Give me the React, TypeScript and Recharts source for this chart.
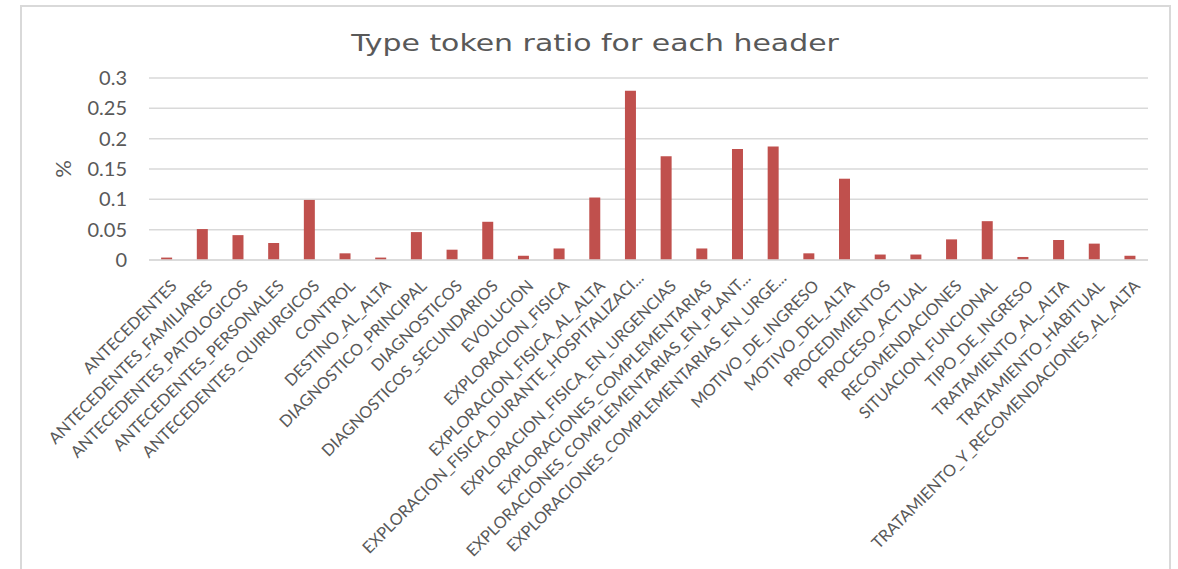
import { BarChart, Bar, XAxis, YAxis, CartesianGrid } from "recharts";

const headers = [
  "ANTECEDENTES",
  "ANTECEDENTES_FAMILIARES",
  "ANTECEDENTES_PATOLOGICOS",
  "ANTECEDENTES_PERSONALES",
  "ANTECEDENTES_QUIRURGICOS",
  "CONTROL",
  "DESTINO_AL_ALTA",
  "DIAGNOSTICO_PRINCIPAL",
  "DIAGNOSTICOS",
  "DIAGNOSTICOS_SECUNDARIOS",
  "EVOLUCION",
  "EXPLORACION_FISICA",
  "EXPLORACION_FISICA_AL_ALTA",
  "EXPLORACION_FISICA_DURANTE_HOSPITALIZACI...",
  "EXPLORACION_FISICA_EN_URGENCIAS",
  "EXPLORACIONES_COMPLEMENTARIAS",
  "EXPLORACIONES_COMPLEMENTARIAS_EN_PLANT...",
  "EXPLORACIONES_COMPLEMENTARIAS_EN_URGE...",
  "MOTIVO_DE_INGRESO",
  "MOTIVO_DEL_ALTA",
  "PROCEDIMIENTOS",
  "PROCESO_ACTUAL",
  "RECOMENDACIONES",
  "SITUACION_FUNCIONAL",
  "TIPO_DE_INGRESO",
  "TRATAMIENTO_AL_ALTA",
  "TRATAMIENTO_HABITUAL",
  "TRATAMIENTO_Y_RECOMENDACIONES_AL_ALTA",
];

const ttr = [
  0.004, 0.051, 0.041, 0.028, 0.099, 0.011, 0.004, 0.046, 0.017, 0.063,
  0.007, 0.019, 0.103, 0.279, 0.171, 0.019, 0.183, 0.187, 0.011, 0.134,
  0.009, 0.009, 0.034, 0.064, 0.005, 0.033, 0.027, 0.007,
];

const yTicks = [0, 0.05, 0.1, 0.15, 0.2, 0.25, 0.3];

const data = headers.map((h, i) => ({ header: h, ratio: ttr[i] }));

const textColor = "#595959";
const gridColor = "#d9d9d9";
const font = "Lato, 'Open Sans', sans-serif";

// truncated labels sit a little higher/further right, like in the original
const XTick = (props: any) => {
  const { x, y, payload } = props;
  const cut = String(payload.value).endsWith("...");
  const px = x + 11 + (cut ? 3 : 0);
  const py = y + 27 - (cut ? 8 : 0);
  return (
    <text
      x={px}
      y={py}
      transform={`rotate(-45 ${px} ${py})`}
      textAnchor="end"
      fill={textColor}
      fontSize={16.3}
      fontFamily={font}
    >
      {payload.value}
    </text>
  );
};

export default function App() {
  return (
    <div style={{ position: "absolute", left: 0, top: 0, width: 1178, height: 569, overflow: "hidden", background: "#fff" }}>
      <div
        style={{
          position: "absolute",
          left: 20,
          top: 5,
          width: 1151,
          height: 620,
          border: `2px solid ${gridColor}`,
          boxSizing: "border-box",
        }}
      />
      <div
        style={{
          position: "absolute",
          left: 6,
          top: 32,
          width: 1178,
          textAlign: "center",
          fontFamily: "'DejaVu Sans', sans-serif",
          fontSize: 22.5,
          lineHeight: "22.5px",
          color: textColor,
          whiteSpace: "nowrap",
          transform: "scaleX(1.33)",
          transformOrigin: "589px 50%",
        }}
      >
        Type token ratio for each header
      </div>
      <div style={{ position: "absolute", left: 0, top: 0 }}>
        <BarChart
          width={1178}
          height={569}
          data={data}
          margin={{ top: 78, right: 30, bottom: 9, left: 0 }}
          barCategoryGap="34%"
        >
          <CartesianGrid vertical={false} stroke={gridColor} strokeWidth={1.5} />
          <XAxis
            dataKey="header"
            interval={0}
            height={300}
            tickLine={false}
            tickSize={0}
            tickMargin={0}
            axisLine={{ stroke: gridColor, strokeWidth: 1.5 }}
            tick={<XTick />}
          />
          <YAxis
            width={149}
            domain={[0, 0.3]}
            ticks={yTicks}
            axisLine={false}
            tickLine={false}
            tickSize={0}
            tickMargin={22}
            tick={{ fill: textColor, fontSize: 20, fontFamily: font }}
            label={{
              content: () => (
                <text
                  x={62}
                  y={169}
                  transform="rotate(-90 62 169)"
                  textAnchor="middle"
                  dominantBaseline="central"
                  fill={textColor}
                  fontSize={22}
                  fontFamily={font}
                >
                  %
                </text>
              ),
            }}
          />
          <Bar dataKey="ratio" fill="#c0504d" isAnimationActive={false} />
        </BarChart>
      </div>
    </div>
  );
}
